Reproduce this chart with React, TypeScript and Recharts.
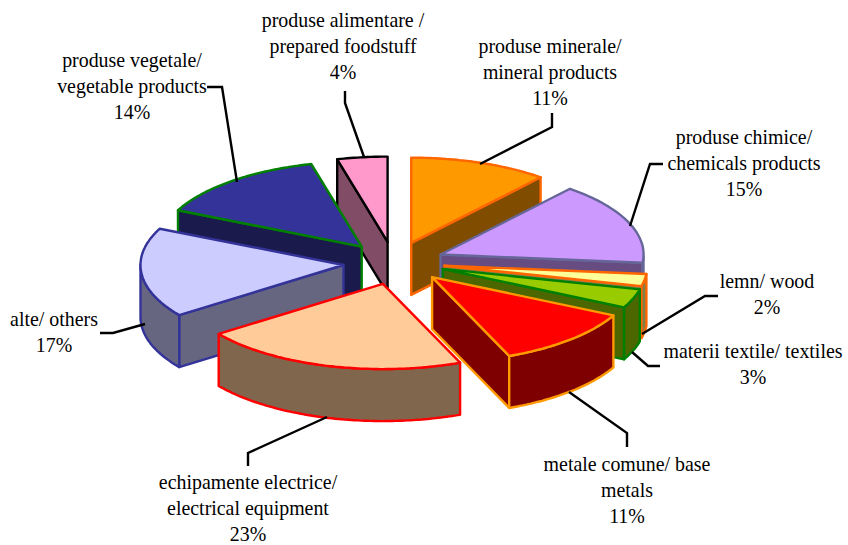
import React from "react";
import { PieChart, Pie } from "recharts";

const names = ["mineral", "chemicals", "wood", "textiles", "metals", "electrical", "others", "vegetable", "food"];
const percents = [11, 15, 2, 3, 11, 23, 17, 14, 4];
const labelLines: string[][] = [
  ["produse minerale/", "mineral products"],
  ["produse chimice/", "chemicals products"],
  ["lemn/ wood"],
  ["materii textile/ textiles"],
  ["metale comune/ base", "metals"],
  ["echipamente electrice/", "electrical equipment"],
  ["alte/ others"],
  ["produse vegetale/", "vegetable products"],
  ["produse alimentare /", "prepared foodstuff"],
];

const fills = ["#FF9900", "#CC99FF", "#FFFF99", "#99CC00", "#FF0000", "#FFCC99", "#CCCCFF", "#333399", "#FF99CC"];
const strokes = ["#FF6600", "#666699", "#FF6600", "#008000", "#FF9900", "#FF0000", "#333399", "#008000", "#000000"];
const sides = ["#7F4C00", "#664C80", "#7F7F4C", "#4C6600", "#7F0000", "#7F664C", "#666680", "#1A1A4C", "#804C66"];

const labelX = [550, 744, 767, 753, 627, 248, 54, 132, 343];
const labelY = [53, 144, 288, 358, 471, 489, 326, 67, 27];
const leaders = [
  "552,113 552,127 480,164",
  "663,164 650,164 630,226",
  "718,296 705,296 642,334",
  "660,366 648,366 632,352",
  "627,447 627,433 569,392",
  "248,466 248,453 327,417",
  "100,333 113,333 145,324",
  "207,87 222,87 237,182",
  "345,91 345,103 364,157",
];

const rows = names.map((name, i) => ({ name, value: percents[i], idx: i }));
const rightRows = rows.slice(0, 5);
const leftRows = rows.slice(5).reverse();
const rightSum = rightRows.reduce((s, r) => s + r.value, 0);
const leftSum = leftRows.reduce((s, r) => s + r.value, 0);

const CX = 394;
const CY = 263;
const RX = 203;
const SQUASH = 0.42;
const DEPTH = 52;
const EXPLODE = 0.25;

const warp = (t: number) => t + 8 * Math.exp(-Math.pow((t - 135) / 35, 2));

function Wedge(props: any) {
  const { cx, cy, outerRadius, startAngle, endAngle } = props;
  const row = props.payload ?? props;
  const i: number = row.idx ?? props.idx;
  const rx: number = outerRadius;
  const ry = rx * SQUASH;
  let lo = Math.min(90 - startAngle, 90 - endAngle);
  let hi = Math.max(90 - startAngle, 90 - endAngle);
  if (lo < 0) {
    lo += 360;
    hi += 360;
  }
  const rad = (d: number) => (d * Math.PI) / 180;
  const mid = rad((lo + hi) / 2);
  const ax = cx + EXPLODE * rx * Math.sin(mid);
  const ay = cy - EXPLODE * ry * Math.cos(mid);
  const at = (t: number, drop = 0): [number, number] => {
    const w = rad(warp(t));
    return [ax + rx * Math.sin(w), ay - ry * Math.cos(w) + drop];
  };
  const arc = (a: number, b: number, drop = 0) => {
    const n = Math.max(2, Math.ceil(Math.abs(b - a)));
    const pts: [number, number][] = [];
    for (let k = 0; k <= n; k++) pts.push(at(a + ((b - a) * k) / n, drop));
    return pts;
  };
  const d = (pts: [number, number][]) =>
    "M" + pts.map((p) => `${p[0].toFixed(1)},${p[1].toFixed(1)}`).join("L") + "Z";
  const common = { stroke: strokes[i], strokeWidth: 2.4, strokeLinejoin: "round" as const };
  const wall = (t: number) =>
    d([[ax, ay], at(t), at(t, DEPTH), [ax, ay + DEPTH]]);
  const s = Math.max(lo, 90);
  const e = Math.min(hi, 270);
  return (
    <g>
      {Math.sin(rad(hi)) > 0.001 && <path d={wall(hi)} fill={sides[i]} {...common} />}
      {Math.sin(rad(lo)) < -0.001 && <path d={wall(lo)} fill={sides[i]} {...common} />}
      {e > s && <path d={d([...arc(s, e), ...arc(e, s, DEPTH)])} fill={sides[i]} {...common} />}
      <path d={d([[ax, ay], ...arc(lo, hi)])} fill={fills[i]} {...common} />
    </g>
  );
}

function Label(props: any) {
  const row = props.payload ?? props;
  const i: number = row.idx ?? props.idx;
  const lines = [...labelLines[i], `${percents[i]}%`];
  return (
    <g>
      <polyline points={leaders[i]} fill="none" stroke="#000000" strokeWidth={2.4} />
      <text
        x={labelX[i]}
        y={labelY[i]}
        textAnchor="middle"
        fontFamily="'Liberation Serif', serif"
        fontSize={19.9}
        fill="#000000"
      >
        {lines.map((l, k) => (
          <tspan key={k} x={labelX[i]} y={labelY[i] + k * 26}>
            {l}
          </tspan>
        ))}
      </text>
    </g>
  );
}

export default function App() {
  return (
    <div style={{ position: "absolute", left: 0, top: 0, width: 848, height: 545, background: "#fff" }}>
      <PieChart width={848} height={545} margin={{ top: 0, right: 0, bottom: 0, left: 0 }}>
        <Pie
          data={leftRows}
          dataKey="value"
          nameKey="name"
          cx={CX}
          cy={CY}
          innerRadius={0}
          outerRadius={RX}
          startAngle={90}
          endAngle={90 + (360 * leftSum) / 100}
          stroke="none"
          shape={Wedge}
          label={Label}
          labelLine={false}
          isAnimationActive={false}
        />
        <Pie
          data={rightRows}
          dataKey="value"
          nameKey="name"
          cx={CX}
          cy={CY}
          innerRadius={0}
          outerRadius={RX}
          startAngle={90}
          endAngle={90 - (360 * rightSum) / 100}
          stroke="none"
          shape={Wedge}
          label={Label}
          labelLine={false}
          isAnimationActive={false}
        />
      </PieChart>
    </div>
  );
}
